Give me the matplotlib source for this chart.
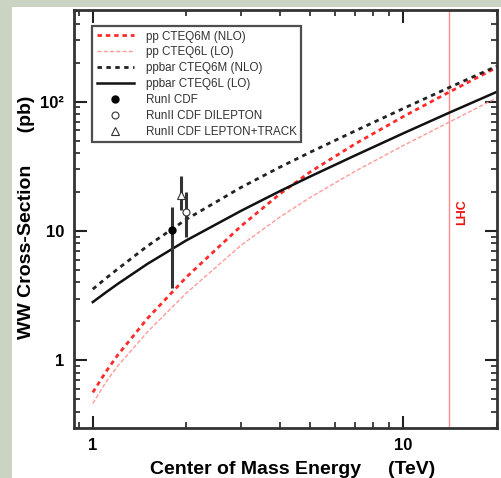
import matplotlib
matplotlib.use("Agg")
import matplotlib.pyplot as plt
from matplotlib import ticker, patches

# cross-section curves (pb) vs centre of mass energy (TeV)
energy = [1, 1.1, 1.2, 1.5, 2, 3, 4, 5, 7, 10, 14, 20]
pp_nlo = [0.565, 0.811, 1.09, 2.11, 4.39, 10.9, 19.3, 28.5, 47.2, 76.7, 118, 184]
pp_lo = [0.464, 0.674, 0.898, 1.66, 3.31, 7.75, 12.8, 18.1, 29.0, 45.8, 69.1, 107]
ppbar_nlo = [3.55, 4.29, 5.06, 7.65, 12.3, 21.7, 31.1, 40.5, 59.4, 88.5, 128, 188]
ppbar_lo = [2.82, 3.34, 3.88, 5.57, 8.45, 14.3, 20.3, 26.3, 38.4, 56.9, 81.8, 119]

# CDF measurements: energy, value, lower error, upper error
run1_x, run1_y, run1_lo, run1_hi = 1.8, 10.2, 6.6, 5.1
dilep_x, dilep_y, dilep_lo, dilep_hi = 2.0, 14.0, 5.0, 6.0
ltrk_x, ltrk_y, ltrk_lo, ltrk_hi = 1.92, 19.0, 4.4, 7.7

lhc_energy = 14

plt.rcParams['font.family'] = ['Liberation Sans', 'DejaVu Sans']

fig = plt.figure(figsize=(5.02, 4.78), dpi=100, facecolor='#cbd3c3')
# white panel on top of the grey-green page
fig.patches.append(patches.Rectangle((12 / 502, 0), 1, 1 - 7 / 478, transform=fig.transFigure,
                                     facecolor='white', edgecolor='none', zorder=-5))
ax = fig.add_axes([74 / 502, 1 - 428 / 478, 423 / 502, 418 / 478])
ax.set_zorder(2)

# theory curves
ax.plot(energy, pp_nlo, color='#ff2a2a', lw=2.0, ls=(0, (1.6, 1.4)), label='pp CTEQ6M (NLO)')
ax.plot(energy, pp_lo, color='#ff9a9a', lw=1.0, ls=(0, (3, 1.5)), label='pp CTEQ6L (LO)')
ax.plot(energy, ppbar_nlo, color='#222222', lw=2.0, ls=(0, (1.6, 1.6)), label='ppbar CTEQ6M (NLO)')
ax.plot(energy, ppbar_lo, color='#111111', lw=1.8, label='ppbar CTEQ6L (LO)')

# measurements
err_style = dict(fmt='none', ecolor='#333333', elinewidth=2.2, capsize=0, zorder=4)
ax.errorbar([run1_x], [run1_y], yerr=[[run1_lo], [run1_hi]], **err_style)
ax.errorbar([ltrk_x], [ltrk_y], yerr=[[ltrk_lo], [ltrk_hi]], **err_style)
ax.errorbar([dilep_x], [dilep_y], yerr=[[dilep_lo], [dilep_hi]], **err_style)
ax.plot([run1_x], [run1_y], 'o', color='black', ms=5, ls='none', zorder=5, label='RunI CDF')
ax.plot([dilep_x], [dilep_y], 'o', mfc='white', mec='#333333', mew=0.8, ms=5, ls='none', zorder=5,
        label='RunII CDF DILEPTON')
ax.plot([ltrk_x], [ltrk_y], '^', mfc='white', mec='#333333', mew=0.8, ms=5.5, ls='none', zorder=5,
        label='RunII CDF LEPTON+TRACK')

# LHC energy
ax.axvline(lhc_energy, color='#ff8c8c', lw=1.0, zorder=1)
ax.text(15.5, 0.517, 'LHC', transform=ax.get_xaxis_transform(), rotation=90, color='#ee1111',
        fontsize=9, fontweight='bold', ha='center', va='center')

ax.set_xscale('log')
ax.set_yscale('log')
ax.set_xlim(0.87, 20)
ax.set_ylim(0.3, 510)

ax.xaxis.set_major_locator(ticker.FixedLocator([1, 10]))
ax.xaxis.set_major_formatter(ticker.FixedFormatter(['1', '10']))
ax.xaxis.set_minor_locator(ticker.LogLocator(base=10, subs=range(2, 10)))
ax.xaxis.set_minor_formatter(ticker.NullFormatter())
ax.yaxis.set_major_locator(ticker.FixedLocator([1, 10, 100]))
ax.yaxis.set_major_formatter(ticker.FixedFormatter(['1', '10', '10\u00b2']))
ax.yaxis.set_minor_locator(ticker.LogLocator(base=10, subs=range(2, 10)))
ax.yaxis.set_minor_formatter(ticker.NullFormatter())

ax.tick_params(which='both', direction='in', top=True, right=True, color='#222222')
ax.tick_params(which='major', length=9, width=1.5, pad=7, labelsize=12)
ax.tick_params(which='minor', length=4, width=1.2)
for label in ax.get_xticklabels() + ax.get_yticklabels():
    label.set_fontweight('bold')
for side in ax.spines.values():
    side.set_linewidth(2)
    side.set_color('#333333')

ax.set_xlabel('Center of Mass Energy     (TeV)', fontsize=14, fontweight='bold')
ax.xaxis.set_label_coords(0.5165, -0.100)
ax.xaxis.label.set_va('center')
ax.set_ylabel('WW Cross-Section      (pb)', fontsize=14, fontweight='bold')
ax.yaxis.set_label_coords(-0.113, 0.5036)
ax.yaxis.label.set_va('center')

leg = ax.legend(loc='upper left', bbox_to_anchor=(0.0426, 0.962), borderaxespad=0,
                fontsize=8.4, frameon=True, fancybox=False, handlelength=3.2, handletextpad=1.0,
                labelspacing=0.33, borderpad=0.4)
leg.get_frame().set_edgecolor('#222222')
leg.get_frame().set_linewidth(1.6)
for t in leg.get_texts():
    t.set_color('#333333')

fig.savefig('out.png', dpi=100, facecolor=fig.get_facecolor())
